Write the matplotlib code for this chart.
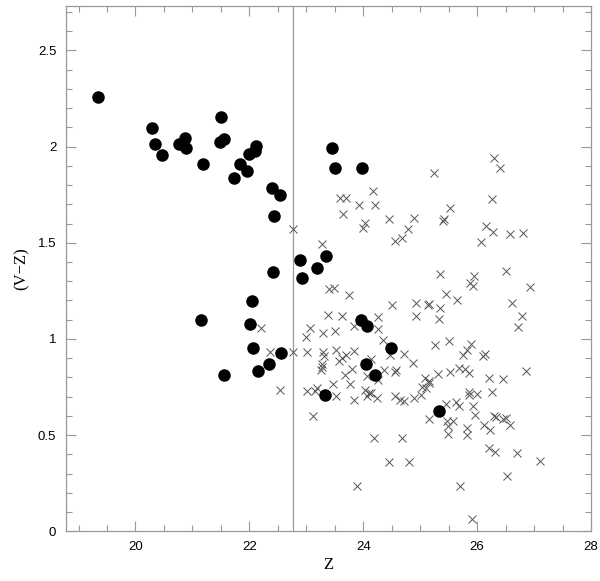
import numpy as np
import matplotlib
matplotlib.use("Agg")
import matplotlib.pyplot as plt
from matplotlib.ticker import MultipleLocator, FuncFormatter

# filled circles (Z, V-Z)
z_circ = [19.34, 20.29, 20.35, 20.47, 20.77, 20.87, 20.89, 21.19, 21.50, 21.48,
          21.55, 21.73, 21.83, 21.95, 21.99, 22.11, 22.10, 22.40, 22.54, 22.44,
          22.42, 23.46, 23.50, 23.97, 22.89, 23.35, 23.18, 22.93, 22.05, 22.02,
          23.96, 24.07, 21.15, 22.07, 22.56, 22.35, 22.16, 21.56, 24.48, 24.04,
          24.21, 23.33, 25.33]
vz_circ = [2.256, 2.098, 2.011, 1.956, 2.014, 2.047, 1.994, 1.910, 2.155, 2.023,
           2.037, 1.836, 1.908, 1.872, 1.963, 2.002, 1.976, 1.786, 1.749, 1.637,
           1.346, 1.992, 1.891, 1.887, 1.411, 1.430, 1.370, 1.319, 1.195, 1.077,
           1.101, 1.065, 1.100, 0.954, 0.928, 0.868, 0.834, 0.815, 0.954, 0.870,
           0.812, 0.707, 0.623]

# crosses (Z, V-Z)
z_x = [25.24, 24.18, 23.59, 23.69, 23.92, 24.21, 25.52, 23.65, 24.46, 24.89,
       25.40, 25.42, 24.03, 24.00, 24.79, 24.68, 24.55, 22.77, 23.27, 25.34,
       25.46, 23.39, 23.48, 23.75, 24.50, 24.92, 25.13, 25.15, 25.34, 23.38,
       23.63, 24.26, 24.92, 25.33, 22.20, 23.07, 23.83, 24.26, 26.30, 26.41,
       26.27, 26.15, 26.28, 26.57, 26.80, 26.06, 26.51, 25.94, 25.87, 25.92,
       26.92, 25.65, 26.62, 26.79, 26.72, 22.99, 23.30, 23.50, 22.37, 22.77,
       23.01, 23.29, 23.31, 23.52, 23.69, 23.62, 23.58, 23.84, 24.14, 24.35,
       24.47, 24.71, 24.87, 23.27, 23.27, 23.26, 23.81, 23.68, 24.07, 24.26,
       24.36, 24.58, 24.56, 22.54, 23.02, 23.18, 23.16, 23.47, 23.76, 23.52,
       24.03, 24.10, 24.06, 24.14, 24.25, 23.83, 24.55, 24.64, 24.72, 24.90,
       23.12, 24.19, 24.68, 25.26, 25.51, 25.90, 25.82, 25.75, 26.13, 26.11,
       25.32, 25.53, 25.69, 25.79, 25.85, 26.86, 26.20, 26.45, 26.27, 25.08,
       25.16, 25.04, 25.11, 25.16, 25.02, 25.85, 25.86, 26.00, 25.46, 25.63,
       25.68, 25.93, 25.96, 26.30, 26.33, 26.45, 26.50, 26.57, 25.15, 25.47,
       25.58, 25.49, 26.12, 26.22, 25.83, 25.49, 25.82, 26.20, 26.32, 26.70,
       27.10, 24.46, 24.81, 26.52, 23.89, 25.70, 25.91]
vz_x = [1.865, 1.771, 1.732, 1.735, 1.696, 1.696, 1.682, 1.648, 1.624, 1.627,
        1.614, 1.622, 1.603, 1.576, 1.570, 1.523, 1.509, 1.570, 1.495, 1.336,
        1.236, 1.257, 1.264, 1.226, 1.177, 1.185, 1.177, 1.180, 1.163, 1.127,
        1.117, 1.113, 1.118, 1.105, 1.059, 1.059, 1.069, 1.051, 1.940, 1.886,
        1.727, 1.589, 1.557, 1.547, 1.550, 1.506, 1.351, 1.329, 1.291, 1.276,
        1.271, 1.200, 1.187, 1.118, 1.064, 1.012, 1.029, 1.043, 0.932, 0.932,
        0.932, 0.932, 0.911, 0.942, 0.918, 0.902, 0.885, 0.938, 0.897, 0.995,
        0.916, 0.921, 0.874, 0.870, 0.853, 0.836, 0.843, 0.815, 0.807, 0.789,
        0.836, 0.838, 0.829, 0.735, 0.730, 0.747, 0.730, 0.766, 0.764, 0.702,
        0.733, 0.721, 0.702, 0.721, 0.692, 0.683, 0.704, 0.681, 0.675, 0.695,
        0.598, 0.486, 0.486, 0.966, 0.987, 0.974, 0.940, 0.915, 0.920, 0.910,
        0.819, 0.827, 0.848, 0.843, 0.825, 0.832, 0.795, 0.793, 0.723, 0.798,
        0.781, 0.752, 0.743, 0.770, 0.709, 0.726, 0.711, 0.712, 0.661, 0.670,
        0.653, 0.653, 0.603, 0.599, 0.596, 0.586, 0.589, 0.555, 0.586, 0.572,
        0.572, 0.546, 0.555, 0.529, 0.538, 0.507, 0.500, 0.435, 0.413, 0.409,
        0.363, 0.358, 0.358, 0.286, 0.234, 0.234, 0.063]

z_cut = 22.77

gris = "#999999"
plt.rcParams["font.family"] = ["Liberation Sans", "DejaVu Sans"]

fig = plt.figure(figsize=(6.0, 5.81), dpi=100)
ax = fig.add_axes([0.11, 0.0855, 0.875, 0.904])

ax.axvline(z_cut, color=gris, linewidth=0.9, zorder=1)
ax.plot(z_x, vz_x, linestyle="none", marker="x", markersize=6,
        markeredgewidth=0.7, color="#555555", zorder=2)
ax.plot(z_circ, vz_circ, linestyle="none", marker="o", markersize=8,
        color="black", zorder=3)

ax.set_xlim(18.78, 28.0)
ax.set_ylim(0, 2.73)

ax.xaxis.set_major_locator(MultipleLocator(2))
ax.xaxis.set_minor_locator(MultipleLocator(0.5))
ax.yaxis.set_major_locator(MultipleLocator(0.5))
ax.yaxis.set_minor_locator(MultipleLocator(0.1))
ax.yaxis.set_major_formatter(FuncFormatter(lambda v, p: f"{v:g}"))

for s in ax.spines.values():
    s.set_color(gris)
    s.set_linewidth(0.9)

ax.tick_params(which="both", direction="in", top=True, right=True,
               color=gris, width=0.8, labelsize=9.5, pad=7)
ax.tick_params(which="major", length=7.5)
ax.tick_params(which="minor", length=4.5)

ax.set_xlabel("Z", family="Liberation Serif", fontsize=12, labelpad=3)
ax.set_ylabel("(V\u2212Z)", family="Liberation Serif", fontsize=12, labelpad=6)

fig.savefig("out.png", dpi=100)
